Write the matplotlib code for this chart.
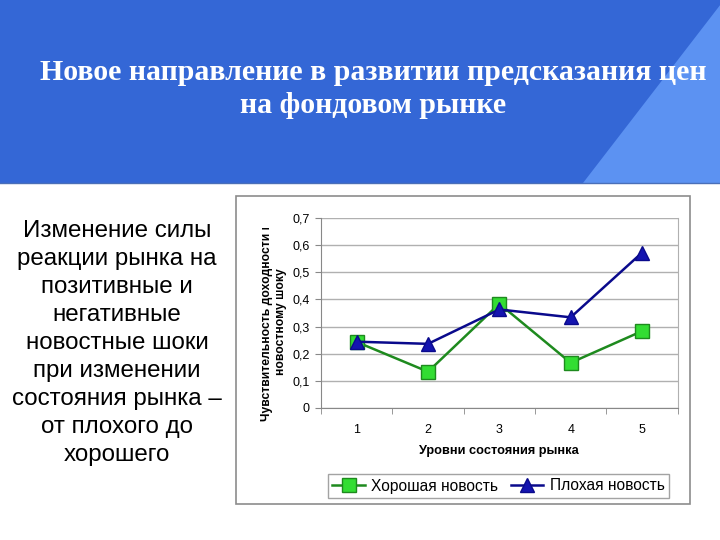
import matplotlib
matplotlib.use("Agg")
import matplotlib.pyplot as plt
from matplotlib.patches import Rectangle, Polygon
from matplotlib.transforms import Bbox

levels = [1, 2, 3, 4, 5]
good_news = [0.243, 0.133, 0.384, 0.166, 0.283]
bad_news = [0.244, 0.236, 0.363, 0.334, 0.573]
yticks = [0, 0.1, 0.2, 0.3, 0.4, 0.5, 0.6, 0.7]
ytick_labels = ["0", "0,1", "0,2", "0,3", "0,4", "0,5", "0,6", "0,7"]
title = "Новое направление в развитии предсказания цен\nна фондовом рынке"
side_text = ("Изменение силы\nреакции рынка на\nпозитивные и\nнегативные\nновостные шоки\n"
             "при изменении\nсостояния рынка –\nот плохого до\nхорошего")
xlabel = "Уровни состояния рынка"
ylabel = "Чувствительность доходности к\nновостному шоку"
series_names = ["Хорошая новость", "Плохая новость"]

W, H = 720, 540
fig = plt.figure(figsize=(7.2, 5.4), dpi=100)
fig.patch.set_facecolor("white")

def px(x, y):
    return x / W, 1 - y / H

# Header band
bg = fig.add_axes([0, 0, 1, 1], zorder=0)
bg.set_xlim(0, W)
bg.set_ylim(H, 0)
bg.axis("off")
bg.add_patch(Rectangle((0, 0), W, 183, facecolor="#3467D6", edgecolor="none"))
bg.add_patch(Polygon([(724, 0), (724, 183), (583, 183)], closed=True,
                     facecolor="#5C92F2", edgecolor="none"))
bg.plot([0, 720], [182.5, 182.5], color="#4a6fb8", lw=1)
bg.text(373, 89, title, ha="center", va="center", color="white",
        family="Liberation Serif", fontweight="bold", fontsize=21.5,
        linespacing=1.3)
bg.text(117, 343, side_text, ha="center", va="center", color="black",
        family="Liberation Sans", fontsize=17.4, linespacing=1.36)

# Chart box
bg.add_patch(Rectangle((235.5, 195.5), 454, 308, facecolor="white",
                       edgecolor="#8c8c8c", lw=1.2))

# Plot area
l, t, r, b = 321, 218.3, 677.7, 407.7
ax = fig.add_axes([l / W, 1 - b / H, (r - l) / W, (b - t) / H], zorder=2)
ax.set_xlim(0.5, 5.5)
ax.set_ylim(0, 0.7)
ax.set_yticks(yticks)
ax.set_yticklabels(ytick_labels, family="Liberation Sans", fontsize=9)
ax.set_xticks(levels)
ax.set_xticklabels([str(v) for v in levels], family="Liberation Sans", fontsize=9)
ax.tick_params(axis="x", length=0, pad=12)
ax.set_xticks([0.5, 1.5, 2.5, 3.5, 4.5, 5.5], minor=True)
ax.tick_params(axis="x", which="minor", length=4, color="#888888", direction="out")
ax.tick_params(axis="y", length=4, color="#888888", direction="out", pad=4)
ax.grid(axis="y", color="#b0b0b0", lw=1)
ax.set_axisbelow(True)
ax.spines["top"].set_visible(False)
ax.spines["right"].set_color("#b0b0b0")
ax.spines["left"].set_color("#888888")
ax.spines["bottom"].set_color("#888888")

ax.plot(levels, good_news, color="#1e8a1e", lw=1.8, marker="s", markersize=9.5,
        markerfacecolor="#33dd33", markeredgecolor="#1e8a1e", markeredgewidth=1,
        label=series_names[0], zorder=3)
ax.plot(levels, bad_news, color="#0a0a8c", lw=1.8, marker="^", markersize=9.5,
        markerfacecolor="#1414b0", markeredgecolor="#0a0a8c",
        label=series_names[1], zorder=4)

ax.set_xlabel(xlabel, family="Liberation Sans", fontweight="bold", fontsize=9.2,
              labelpad=6)

# Y label (clipped at top like the original)
yl = bg.text(274, 322, ylabel, ha="center", va="center", rotation=90,
             family="Liberation Sans", fontweight="bold", fontsize=8.7,
             linespacing=1.3)
yl.set_clip_on(True)
yl.set_clip_box(Bbox.from_extents(0, 0, W, H - 228))

leg = ax.legend(loc="center", bbox_to_anchor=(px(498.5, 486)), bbox_transform=fig.transFigure,
                ncol=2, frameon=True, fancybox=False, edgecolor="#8c8c8c",
                prop={"family": "Liberation Sans", "size": 11.2},
                handlelength=2.1, columnspacing=0.8, handletextpad=0.4,
                borderpad=0.3)
leg.get_frame().set_linewidth(1.0)

fig.savefig("out.png", dpi=100)
